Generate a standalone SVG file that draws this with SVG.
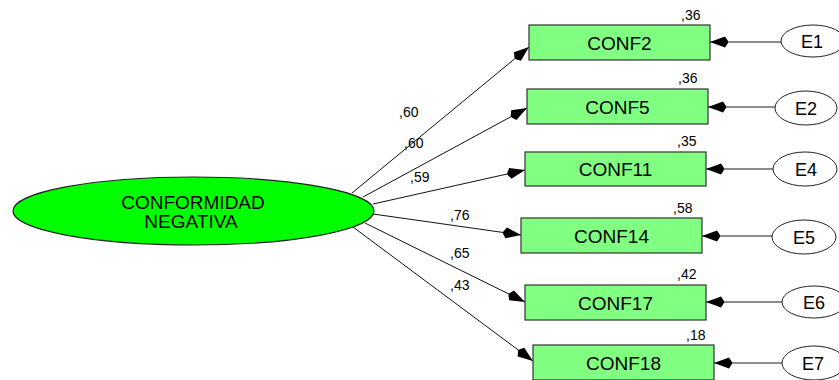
<svg xmlns="http://www.w3.org/2000/svg" width="839" height="380" viewBox="0 0 839 380">
  <style>
    .lbl { font-family: "Liberation Sans", Arial, sans-serif; fill: #000; }
    .obs { fill: #80FF80; stroke: #333; stroke-width: 1.2; }
    .lat { fill: #00FF00; stroke: #222; stroke-width: 1.2; }
    .err { fill: #fff; stroke: #222; stroke-width: 1; }
    .path { stroke: #111; stroke-width: 1; fill: none; marker-end: url(#head); }
    .epath { stroke: #666; stroke-width: 1.3; fill: none; marker-end: url(#head); }
    .name { font-size: 19px; text-anchor: middle; }
    .ename { font-size: 18px; text-anchor: middle; }
    .coef { font-size: 14px; }
  </style>
  <defs>
    <!-- solid wedge arrowhead, tip at the path end -->
    <marker id="head" viewBox="-20 -7 20 14" refX="0" refY="0" markerWidth="20" markerHeight="14" markerUnits="userSpaceOnUse" orient="auto">
      <path d="M0,0 L-15,-5.5 L-18,-1 L-18,1 L-15,5.5 Z" fill="#000"/>
    </marker>
  </defs>

  <rect width="839" height="380" fill="#fff"/>

  <!-- connectors -->
  <g id="connectors">
    <line class="path" x1="352" y1="193" x2="529" y2="47"/>
    <line class="path" x1="363" y1="197" x2="527" y2="108"/>
    <line class="path" x1="373" y1="204" x2="525" y2="170"/>
    <line class="path" x1="373" y1="214" x2="521" y2="235"/>
    <line class="path" x1="365" y1="223" x2="525" y2="302"/>
    <line class="path" x1="353" y1="227" x2="533" y2="361"/>

    <line class="epath" x1="781" y1="42" x2="710" y2="42"/>
    <line class="epath" x1="775" y1="107" x2="708" y2="107"/>
    <line class="epath" x1="773" y1="169" x2="706" y2="169"/>
    <line class="epath" x1="772" y1="236" x2="702" y2="236"/>
    <line class="epath" x1="782" y1="302" x2="706" y2="302"/>
    <line class="epath" x1="782" y1="363" x2="714" y2="363"/>

    <text class="lbl coef" x="399" y="117">,60</text>
    <text class="lbl coef" x="404" y="148">,60</text>
    <text class="lbl coef" x="410" y="182">,59</text>
    <text class="lbl coef" x="450" y="220">,76</text>
    <text class="lbl coef" x="450" y="258">,65</text>
    <text class="lbl coef" x="450" y="290">,43</text>
  </g>

  <!-- latent factor -->
  <g id="conformidad-negativa">
    <ellipse class="lat" cx="193.5" cy="211" rx="180.5" ry="34"/>
    <text class="lbl name" x="193" y="209">CONFORMIDAD</text>
    <text class="lbl name" x="191" y="228">NEGATIVA</text>
  </g>

  <!-- observed indicators -->
  <g id="conf2">
    <rect class="obs" x="529" y="25" width="181" height="35"/>
    <text class="lbl name" x="619.5" y="50">CONF2</text>
    <text class="lbl coef" x="681" y="20">,36</text>
  </g>
  <g id="conf5">
    <rect class="obs" x="527" y="89" width="181" height="35"/>
    <text class="lbl name" x="617.5" y="114">CONF5</text>
    <text class="lbl coef" x="678" y="83">,36</text>
  </g>
  <g id="conf11">
    <rect class="obs" x="525" y="152" width="181" height="34"/>
    <text class="lbl name" x="615.5" y="176">CONF11</text>
    <text class="lbl coef" x="677" y="146">,35</text>
  </g>
  <g id="conf14">
    <rect class="obs" x="521" y="218" width="181" height="35"/>
    <text class="lbl name" x="611.5" y="243">CONF14</text>
    <text class="lbl coef" x="673" y="213">,58</text>
  </g>
  <g id="conf17">
    <rect class="obs" x="525" y="285" width="181" height="35"/>
    <text class="lbl name" x="615.5" y="310">CONF17</text>
    <text class="lbl coef" x="677" y="279">,42</text>
  </g>
  <g id="conf18">
    <rect class="obs" x="533" y="345" width="181" height="35"/>
    <text class="lbl name" x="623.5" y="370">CONF18</text>
    <text class="lbl coef" x="686" y="340">,18</text>
  </g>

  <!-- error terms -->
  <g id="e1">
    <ellipse class="err" cx="813" cy="41" rx="32" ry="16"/>
    <text class="lbl ename" x="812" y="48">E1</text>
  </g>
  <g id="e2">
    <ellipse class="err" cx="806" cy="108" rx="31" ry="17"/>
    <text class="lbl ename" x="806" y="115">E2</text>
  </g>
  <g id="e4">
    <ellipse class="err" cx="805" cy="169" rx="32" ry="17"/>
    <text class="lbl ename" x="806" y="176">E4</text>
  </g>
  <g id="e5">
    <ellipse class="err" cx="804" cy="237" rx="32" ry="17"/>
    <text class="lbl ename" x="804" y="244">E5</text>
  </g>
  <g id="e6">
    <ellipse class="err" cx="814" cy="302" rx="32" ry="16"/>
    <text class="lbl ename" x="814" y="309">E6</text>
  </g>
  <g id="e7">
    <ellipse class="err" cx="814" cy="363" rx="32" ry="17"/>
    <text class="lbl ename" x="813" y="370">E7</text>
  </g>
</svg>
